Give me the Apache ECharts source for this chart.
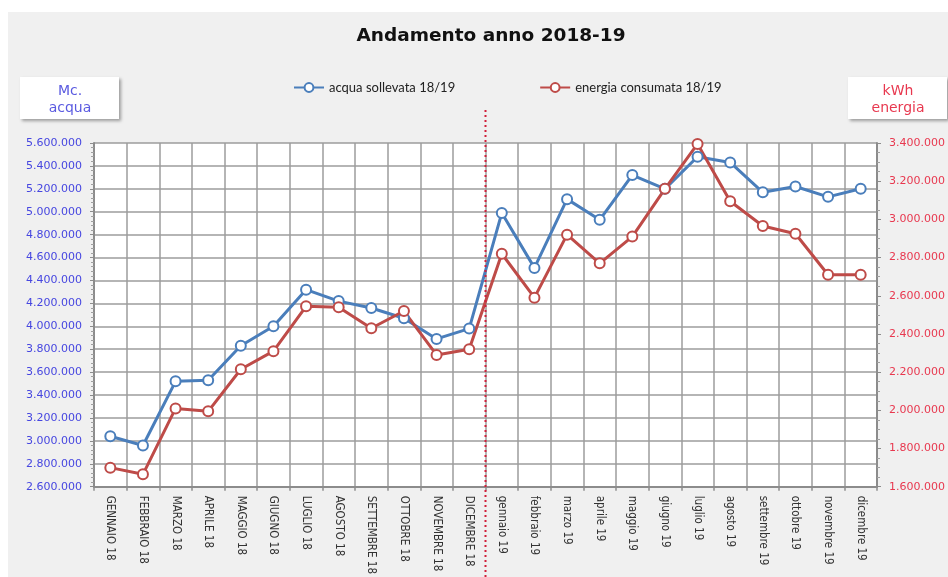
<!DOCTYPE html>
<html>
<head>
<meta charset="utf-8">
<script src="https://cdn.jsdelivr.net/npm/echarts@6/dist/echarts.min.js"></script>
<style>
  html, body { margin: 0; padding: 0; background: #fff; }
  #main { width: 948px; height: 577px; }
</style>
</head>
<body>
<div id="main"></div>
<script>
var mesi = ['GENNAIO 18','FEBBRAIO 18','MARZO 18','APRILE 18','MAGGIO 18','GIUGNO 18',
	'LUGLIO 18','AGOSTO 18','SETTEMBRE 18','OTTOBRE 18','NOVEMBRE 18','DICEMBRE 18',
	'gennaio 19','febbraio 19','marzo 19','aprile 19','maggio 19','giugno 19',
	'luglio 19','agosto 19','settembre 19','ottobre 19','novembre 19','dicembre 19'];
/*metri cubi di acqua sollevata*/
var acqua = [3040000,2960000,3520000,3530000,3830000,4000000,4320000,4220000,4160000,4070000,3890000,3980000,
	4990000,4510000,5110000,4930000,5320000,5200000,5480000,5430000,5170000,5220000,5130000,5200000];
/*kWh di energia consumata*/
var energia = [1700000,1665000,2010000,1995000,2215000,2310000,2545000,2540000,2430000,2520000,2290000,2320000,
	2820000,2590000,2920000,2770000,2910000,3160000,3395000,3095000,2965000,2925000,2710000,2710000];
var nomiSerie = ['acqua sollevata 18/19','energia consumata 18/19'];
var titolo = 'Andamento anno 2018-19';

var blu = '#4a7ebb', rosso = '#be4b48';
var gridCol = '#9c9c9c';

function puntini(v){
	return String(v).replace(/\B(?=(\d{3})+(?!\d))/g, '.');
}

function box(x, y, righe, colore){
	return {
		type: 'group', left: x, top: y,
		children: [
			{type:'rect', shape:{x:0, y:0, width:99, height:42},
				style:{fill:'#fff', shadowBlur:3, shadowOffsetX:2, shadowOffsetY:2, shadowColor:'rgba(0,0,0,0.35)'}},
			{type:'text', x:50, y:23, style:{text:righe, fill:colore, align:'center', verticalAlign:'middle',
				font:'14px "DejaVu Sans"', lineHeight:17}}
		]
	};
}

var myChart = echarts.init(document.getElementById('main'));
myChart.setOption({
	backgroundColor: '#fff',
	animation: false,
	title: {
		text: titolo, left: 486, top: 22, textAlign: 'center',
		textStyle: {fontFamily:'DejaVu Sans', fontWeight:'bold', fontSize:18.5, color:'#111'}
	},
	legend: {
		left: 288, top: 76, itemWidth: 30, itemHeight: 11, itemGap: 84,
		textStyle: {fontFamily:'Lato', fontSize:13, color:'#222'},
		data: nomiSerie
	},
	grid: {
		left: 94, right: 71, top: 143, bottom: 89,
		show: true, backgroundColor: '#fff', borderWidth: 0
	},
	xAxis: {
		type: 'category', data: mesi, boundaryGap: true,
		axisLine: {lineStyle:{color:'#8c8c8c', width:2}},
		axisTick: {show:true, length:4, lineStyle:{color:'#8c8c8c', width:1.5}},
		splitLine: {show:true, lineStyle:{color:gridCol, width:1.5}},
		axisLabel: {rotate:-90, interval:0, margin:9, color:'#333',
			fontFamily:'"Liberation Sans Narrow", "DejaVu Sans Condensed", sans-serif', fontSize:11.5}
	},
	yAxis: [{
		type: 'value', min: 2600000, max: 5600000, interval: 200000,
		axisLine: {show:true, lineStyle:{color:'#8c8c8c', width:2}},
		axisTick: {show:true, length:4, lineStyle:{color:'#8c8c8c'}},
		minorTick: {show:true, splitNumber:5, length:3, lineStyle:{color:'#a0a0a0'}},
		splitLine: {show:true, lineStyle:{color:gridCol, width:1.5}},
		axisLabel: {color:'#4646e0', fontFamily:'DejaVu Sans', fontSize:11, margin:12, formatter:puntini}
	},{
		type: 'value', min: 1600000, max: 3400000, interval: 200000,
		axisLine: {show:true, lineStyle:{color:'#8c8c8c', width:2}},
		axisTick: {show:true, length:4, lineStyle:{color:'#8c8c8c'}},
		minorTick: {show:true, splitNumber:4, length:3, lineStyle:{color:'#a0a0a0'}},
		splitLine: {show:false},
		axisLabel: {color:'#e8384f', fontFamily:'DejaVu Sans', fontSize:11, margin:12, formatter:puntini}
	}],
	series: [{
		name: nomiSerie[0], type: 'line', yAxisIndex: 0, data: acqua,
		symbol: 'emptyCircle', symbolSize: 10,
		lineStyle: {color:blu, width:3},
		itemStyle: {color:blu, borderWidth:1.5}
	},{
		name: nomiSerie[1], type: 'line', yAxisIndex: 1, data: energia,
		symbol: 'emptyCircle', symbolSize: 10,
		lineStyle: {color:rosso, width:3},
		itemStyle: {color:rosso, borderWidth:1.5}
	}]
});

/*pannello grigio, riquadri delle unita e linea di separazione tra i due anni*/
var xSep = (myChart.convertToPixel({xAxisIndex:0}, mesi[11]) + myChart.convertToPixel({xAxisIndex:0}, mesi[12])) / 2;
myChart.setOption({
	graphic: [
		{type:'rect', left:8, top:12, z:-10, shape:{width:940, height:565}, style:{fill:'#f0f0f0'}},
		box(20, 77, 'Mc.\nacqua', '#5a5ae0'),
		box(848, 77, 'kWh\nenergia', '#e8384f'),
		{type:'line', z:100, shape:{x1:xSep, y1:110, x2:xSep, y2:577},
			style:{stroke:'#d0203a', lineWidth:2, lineDash:[2,3]}}
	]
});
</script>
</body>
</html>
